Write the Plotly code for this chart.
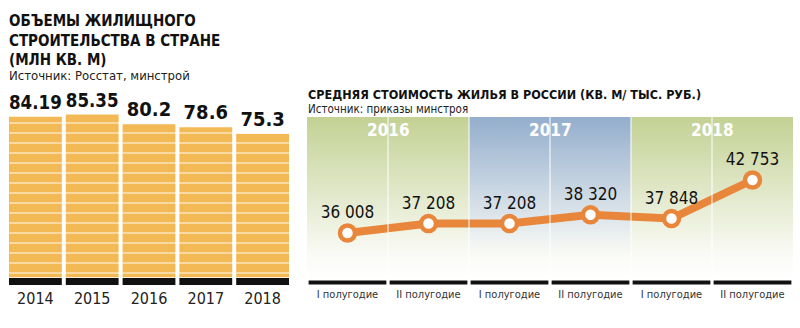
import plotly.graph_objects as go

W, H = 800, 328
def py(p):
    return 1 - p / H
def px(p):
    return p / W

# ---- data: left chart ----
years = ["2014", "2015", "2016", "2017", "2018"]
volumes = [84.19, 85.35, 80.2, 78.6, 75.3]

# ---- data: right chart ----
half_labels = ["I полугодие", "II полугодие", "I полугодие", "II полугодие", "I полугодие", "II полугодие"]
half_years = ["2016", "2016", "2017", "2017", "2018", "2018"]
prices = [36008, 37208, 37208, 38320, 37848, 42753]
year_blocks = ["2016", "2017", "2018"]

FONT = "DejaVu Sans Condensed, Liberation Sans Narrow, Roboto, sans-serif"
ORANGE_BAR = "#F2B955"
ORANGE_LINE = "#E8873B"
GREEN_TOP = "#C3D194"
BLUE_TOP = "#94AECD"

fig = go.Figure()

# ---------- left: bars ----------
fig.add_trace(go.Bar(
    x=years, y=volumes, xaxis="x", yaxis="y",
    marker=dict(color=ORANGE_BAR, line=dict(width=0),
                pattern=dict(shape="-", fgcolor="white", bgcolor=ORANGE_BAR,
                             size=10, solidity=0.18, fillmode="overlay")),
    text=[str(v) for v in volumes], textposition="outside",
    textfont=dict(family=FONT, size=20, color="#111111", weight="bold"),
    cliponaxis=False, hoverinfo="skip",
))

shapes = []
bargap = 0.07
for i, _ in enumerate(years):
    shapes.append(dict(type="rect", xref="x", yref="paper",
                       x0=i - (1 - bargap) / 2, x1=i + (1 - bargap) / 2,
                       y0=py(285), y1=py(278), fillcolor="#111111", line=dict(width=0), layer="above"))

# ---------- right: background panels ----------
y_lo, y_hi = 30027, 50770
for k, yr in enumerate(year_blocks):
    idx = [i for i, h in enumerate(half_years) if h == yr]
    x0, x1 = min(idx) - 0.5, max(idx) + 0.5
    top = BLUE_TOP if k == 1 else GREEN_TOP
    fig.add_trace(go.Scatter(
        x=[x0, x1, x1, x0, x0], y=[y_lo, y_lo, y_hi, y_hi, y_lo],
        xaxis="x2", yaxis="y2", mode="lines", line=dict(width=0),
        fill="toself",
        fillgradient=dict(type="vertical",
                          colorscale=[[0, "rgba(255,255,255,1)"], [0.15, "rgba(250,251,246,1)"], [1, top]]),
        hoverinfo="skip", showlegend=False,
    ))
    xc = (x0 + x1) / 2
    shapes.append(dict(type="line", xref="x2", yref="paper", x0=xc, x1=xc,
                       y0=py(280), y1=py(117), line=dict(color="white", width=1)))
    if k > 0:
        shapes.append(dict(type="line", xref="x2", yref="paper", x0=x0, x1=x0,
                           y0=py(280), y1=py(117), line=dict(color="white", width=1)))

for i, _ in enumerate(half_labels):
    shapes.append(dict(type="rect", xref="x2", yref="paper",
                       x0=i - 0.48, x1=i + 0.48, y0=py(284.5), y1=py(280.5),
                       fillcolor="#111111", line=dict(width=0)))

fig.add_trace(go.Scatter(
    x=list(range(len(prices))), y=prices, xaxis="x2", yaxis="y2",
    mode="lines+markers+text",
    line=dict(color=ORANGE_LINE, width=8),
    marker=dict(size=15, color="white", line=dict(color=ORANGE_LINE, width=4.5)),
    text=[f"{v:,}".replace(",", " ") for v in prices], textposition="top center",
    textfont=dict(family=FONT, size=17, color="#111111"),
    cliponaxis=False, hoverinfo="skip", showlegend=False,
))

annotations = []
for k, yr in enumerate(year_blocks):
    idx = [i for i, h in enumerate(half_years) if h == yr]
    annotations.append(dict(xref="x2", yref="paper", x=(min(idx) + max(idx)) / 2, y=py(130),
                            text=yr, showarrow=False, xanchor="center", yanchor="middle",
                            font=dict(family=FONT, size=17, color="white", weight="bold")))

# titles
annotations += [
    dict(xref="paper", yref="paper", x=px(7), y=py(10), xanchor="left", yanchor="top", align="left",
         text="ОБЪЕМЫ ЖИЛИЩНОГО<br>СТРОИТЕЛЬСТВА В СТРАНЕ<br>(МЛН КВ. М)", showarrow=False,
         font=dict(family=FONT, size=15, color="#111111", weight="bold")),
    dict(xref="paper", yref="paper", x=px(7), y=py(75), xanchor="left", yanchor="middle",
         text="Источник: Росстат, минстрой", showarrow=False,
         font=dict(family=FONT, size=13, color="#222222")),
    dict(xref="paper", yref="paper", x=px(306), y=py(95), xanchor="left", yanchor="middle",
         text="СРЕДНЯЯ СТОИМОСТЬ ЖИЛЬЯ В РОССИИ (КВ. М/ ТЫС. РУБ.)", showarrow=False,
         font=dict(family=FONT, size=12.5, color="#111111", weight="bold")),
    dict(xref="paper", yref="paper", x=px(306), y=py(109), xanchor="left", yanchor="middle",
         text="Источник: приказы минстроя", showarrow=False,
         font=dict(family=FONT, size=11.5, color="#222222")),
]

fig.update_layout(
    width=W, height=H, margin=dict(l=0, r=0, t=0, b=0),
    paper_bgcolor="white", plot_bgcolor="rgba(0,0,0,0)",
    showlegend=False, bargap=bargap, separators=". ",
    font=dict(family=FONT),
    xaxis=dict(domain=[px(7), px(291)], showgrid=False, zeroline=False, showline=False,
               ticks="outside", ticklen=6, tickcolor="rgba(0,0,0,0)",
               tickfont=dict(family=FONT, size=16, color="#222222"), fixedrange=True),
    yaxis=dict(domain=[py(277.5), py(98)], range=[0, (277.5 - 98) / 1.91],
               visible=False, fixedrange=True),
    xaxis2=dict(domain=[px(307), px(793)], range=[-0.5, 5.5], anchor="y2",
                showgrid=False, zeroline=False, showline=False,
                tickvals=list(range(len(half_labels))), ticktext=half_labels,
                ticks="outside", ticklen=4, tickcolor="rgba(0,0,0,0)",
                tickfont=dict(family=FONT, size=11, color="#333333"), fixedrange=True),
    yaxis2=dict(domain=[py(280), py(117)], range=[y_lo, y_hi], anchor="x2",
                visible=False, fixedrange=True),
    shapes=shapes, annotations=annotations,
)

fig.write_html("out.html")
